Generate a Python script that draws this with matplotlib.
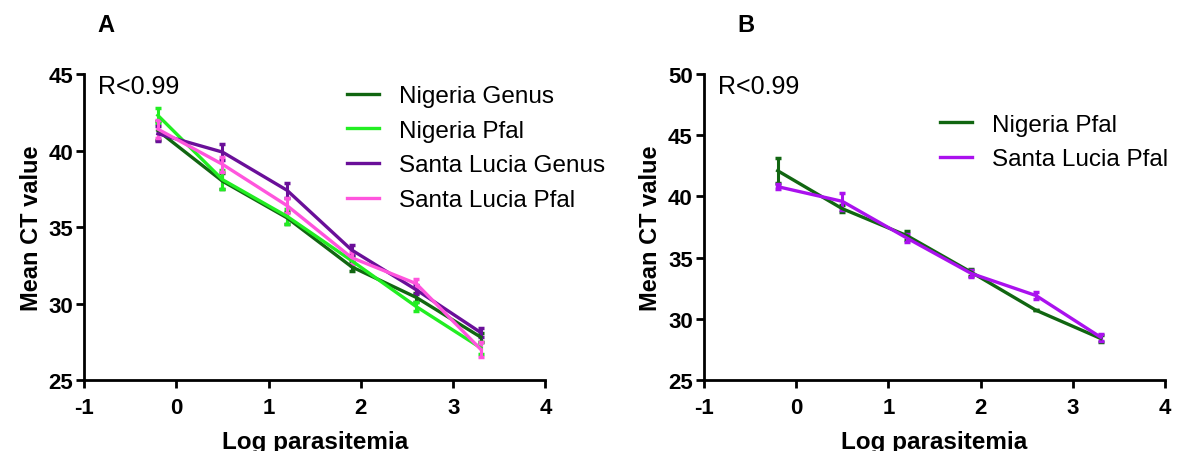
import matplotlib.pyplot as plt
from matplotlib.lines import Line2D
import numpy as np

plt.rcParams['font.family'] = ['Liberation Sans', 'DejaVu Sans']
plt.rcParams['axes.unicode_minus'] = False

log_par = [-0.2, 0.5, 1.2, 1.9, 2.6, 3.3]

# panel A
ng_genus = [41.3, 38.0, 35.6, 32.4, 30.4, 27.8]
ng_genus_err = [0.6, 0.5, 0.4, 0.3, 0.3, 0.3]
ng_pfal = [42.3, 38.1, 35.7, 32.8, 29.8, 27.1]
ng_pfal_err = [0.5, 0.6, 0.5, 0.3, 0.3, 0.4]
sl_genus = [41.1, 39.9, 37.4, 33.5, 30.9, 28.1]
sl_genus_err = [0.5, 0.5, 0.5, 0.3, 0.3, 0.3]
sl_pfal = [41.4, 39.1, 36.4, 33.0, 31.3, 27.0]
sl_pfal_err = [0.6, 0.5, 0.5, 0.4, 0.3, 0.5]

# panel B
b_ng_pfal = [42.1, 39.0, 36.8, 33.8, 30.7, 28.4]
b_ng_pfal_err = [1.0, 0.3, 0.4, 0.3, 0.0, 0.3]
b_sl_pfal = [40.8, 39.6, 36.6, 33.7, 31.9, 28.5]
b_sl_pfal_err = [0.2, 0.7, 0.3, 0.3, 0.3, 0.3]

fig = plt.figure(figsize=(11.77, 4.52), dpi=100)
axA = fig.add_axes([0.0714, 0.157, 0.392, 0.677])
axB = fig.add_axes([0.598, 0.157, 0.392, 0.677])


def estilo(ax, ymin, ymax):
    ax.set_xlim(-1, 4)
    ax.set_ylim(ymin, ymax)
    ax.set_xticks(range(-1, 5))
    ax.set_yticks(range(ymin, ymax + 1, 5))
    ax.spines['top'].set_visible(False)
    ax.spines['right'].set_visible(False)
    ax.spines['left'].set_linewidth(2)
    ax.spines['bottom'].set_linewidth(2)
    ax.tick_params(width=2, length=6, labelsize=16)
    ax.tick_params(axis='x', pad=6)
    ax.tick_params(axis='y', pad=2)
    for lab in ax.get_xticklabels() + ax.get_yticklabels():
        lab.set_fontweight('bold')
    ax.set_xlabel('Log parasitemia', fontsize=17.5, fontweight='bold', labelpad=9)
    ax.set_ylabel('Mean CT value', fontsize=17, fontweight='bold', labelpad=4)
    ax.text(0.03, 1.0, 'R<0.99', transform=ax.transAxes, fontsize=18,
            va='top', ha='left')


def serie(ax, y, e, color):
    ax.errorbar(log_par, y, yerr=e, color=color, lw=2.4, capsize=2.5,
                capthick=2.5, elinewidth=2.2)
    return Line2D([], [], color=color, lw=2.4)


hA = [serie(axA, ng_genus, ng_genus_err, '#116611'),
      serie(axA, ng_pfal, ng_pfal_err, '#22ee22'),
      serie(axA, sl_genus, sl_genus_err, '#6a0f99'),
      serie(axA, sl_pfal, sl_pfal_err, '#ff55dd')]
estilo(axA, 25, 45)
axA.legend(hA, ['Nigeria Genus', 'Nigeria Pfal', 'Santa Lucia Genus', 'Santa Lucia Pfal'],
           loc='upper left', bbox_to_anchor=(0.57, 0.964), frameon=False,
           fontsize=17.5, handlelength=1.3, handletextpad=0.85, labelspacing=0.52,
           borderpad=0, borderaxespad=0)

hB = [serie(axB, b_ng_pfal, b_ng_pfal_err, '#116611'),
      serie(axB, b_sl_pfal, b_sl_pfal_err, '#aa11ee')]
estilo(axB, 25, 50)
axB.legend(hB, ['Nigeria Pfal', 'Santa Lucia Pfal'],
           loc='upper left', bbox_to_anchor=(0.512, 0.87), frameon=False,
           fontsize=17.5, handlelength=1.3, handletextpad=0.85, labelspacing=0.52,
           borderpad=0, borderaxespad=0)

fig.text(106 / 1177, 1 - 26 / 452, 'A', fontsize=17, fontweight='bold',
         ha='center', va='center')
fig.text(746 / 1177, 1 - 26 / 452, 'B', fontsize=17, fontweight='bold',
         ha='center', va='center')

fig.savefig('out.png', dpi=100)
